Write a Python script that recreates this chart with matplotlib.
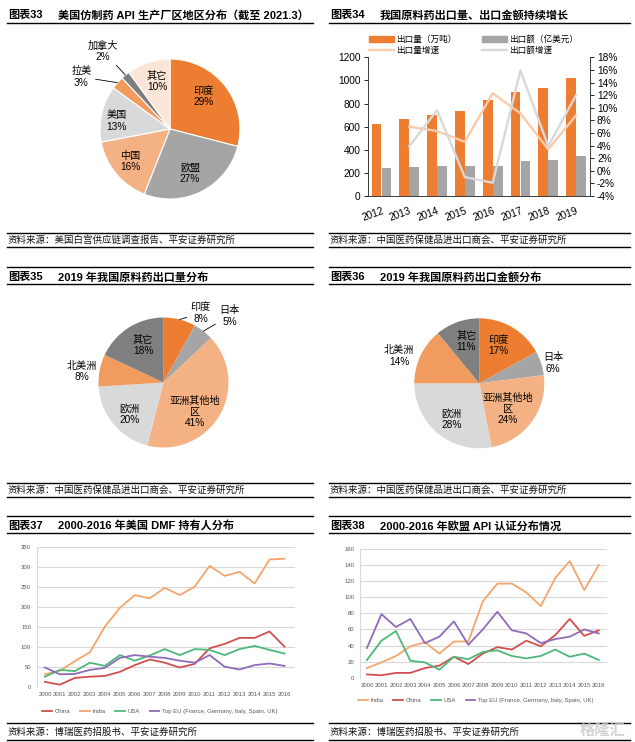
import matplotlib
matplotlib.use('Agg')
import matplotlib.pyplot as plt
from matplotlib.lines import Line2D
from matplotlib.patches import Patch
import numpy as np

plt.rcParams['font.family'] = ['Liberation Sans', 'Noto Sans CJK SC']
plt.rcParams['axes.unicode_minus'] = False

# ---------------- data ----------------
# Chart 33
pie33_labels = ['印度', '欧盟', '中国', '美国', '拉美', '加拿大', '其它']
pie33_values = [29, 27, 16, 13, 3, 2, 10]

# Chart 34
years34 = ['2012', '2013', '2014', '2015', '2016', '2017', '2018', '2019']
export_volume = [620, 663, 705, 733, 830, 898, 933, 1022]   # 万吨
export_value = [240, 248, 263, 263, 263, 300, 308, 344]      # 亿美元
volume_growth = [np.nan, 7.0, 6.3, 4.6, 12.3, 9.1, 3.4, 8.8]  # %
value_growth = [np.nan, 3.9, 9.6, -1.0, -1.9, 15.9, 3.9, 12.0]  # %
left_ticks34 = [0, 200, 400, 600, 800, 1000, 1200]
right_ticks34 = [-4, -2, 0, 2, 4, 6, 8, 10, 12, 14, 16, 18]

# Chart 35
pie35_labels = ['印度', '日本', '亚洲其他地区', '欧洲', '北美洲', '其它']
pie35_values = [8, 5, 41, 20, 8, 18]

# Chart 36
pie36_labels = ['印度', '日本', '亚洲其他地区', '欧洲', '北美洲', '其它']
pie36_values = [17, 6, 24, 28, 14, 11]

# Chart 37 (US DMF holders)
years_line = list(range(2000, 2017))
dmf_china = [12, 5, 22, 25, 27, 37, 54, 68, 60, 48, 57, 96, 107, 122, 122, 138, 100]
dmf_india = [31, 40, 64, 86, 150, 197, 229, 221, 247, 229, 250, 302, 277, 287, 258, 318, 320]
dmf_usa = [25, 42, 39, 60, 52, 79, 65, 78, 94, 79, 94, 92, 79, 94, 102, 92, 83]
dmf_eu = [48, 31, 32, 42, 47, 72, 79, 75, 72, 65, 60, 79, 50, 43, 54, 58, 52]
yticks37 = [0, 50, 100, 150, 200, 250, 300, 350]

# Chart 38 (EU API certificates)
cep_india = [12, 19, 27, 39, 44, 30, 45, 45, 95, 117, 117, 106, 89, 124, 145, 109, 140]
cep_china = [4, 3, 6, 6, 12, 15, 26, 17, 30, 38, 35, 46, 39, 53, 73, 52, 59]
cep_usa = [22, 46, 58, 21, 19, 10, 26, 23, 32, 34, 27, 24, 27, 35, 26, 30, 22]
cep_eu = [37, 79, 63, 73, 43, 51, 70, 41, 60, 82, 59, 55, 43, 48, 51, 60, 55]
yticks38 = [0, 20, 40, 60, 80, 100, 120, 140, 160]

eu_label = 'Top EU (France, Germany, Italy, Spain, UK)'

# ---------------- styles ----------------
ORANGE = '#ED7D31'
GRAY = '#A5A5A5'
LORANGE = '#F4B183'
LGRAY = '#D9D9D9'
MORANGE = '#F29B5E'
DGRAY = '#7F7F7F'
PEACH = '#FBE5D6'

W, H = 635, 742
fig = plt.figure(figsize=(W / 100, H / 100), dpi=100)


def px_axes(x0, y0, x1, y1):
    return fig.add_axes([x0 / W, 1 - y1 / H, (x1 - x0) / W, (y1 - y0) / H])


def hline(x0, x1, y, lw=1.0):
    fig.add_artist(Line2D([x0 / W, x1 / W], [1 - y / H, 1 - y / H],
                          transform=fig.transFigure, color='black', lw=lw))


def ftext(x, y, s, **kw):
    fig.text(x / W, 1 - y / H, s, **kw)


# ---------------- frames, titles, sources ----------------
LX0, LX1 = 7, 313
RX0, RX1 = 329, 630

titles = [
    (LX0, 15, '图表33', '美国仿制药 API 生产厂区地区分布（截至 2021.3）'),
    (RX0, 15, '图表34', '我国原料药出口量、出口金额持续增长'),
    (LX0, 277, '图表35', '2019 年我国原料药出口量分布'),
    (RX0, 277, '图表36', '2019 年我国原料药出口金额分布'),
    (LX0, 526, '图表37', '2000-2016 年美国 DMF 持有人分布'),
    (RX0, 526, '图表38', '2000-2016 年欧盟 API 认证分布情况'),
]
for x, y, a, b in titles:
    ftext(x + 1, y, a, fontsize=8, fontweight='bold', va='center', ha='left')
    ftext(x + 51, y, b, fontsize=8, fontweight='bold', va='center', ha='left')

src1 = '资料来源：美国白宫供应链调查报告、平安证券研究所'
src2 = '资料来源：中国医药保健品进出口商会、平安证券研究所'
src3 = '资料来源：博瑞医药招股书、平安证券研究所'
sources = [(LX0, 240, src1), (RX0, 240, src2), (LX0, 490, src2), (RX0, 490, src2),
           (LX0, 732, src3), (RX0, 732, src3)]
for x, y, s in sources:
    ftext(x + 1, y, s, fontsize=6.8, va='center', ha='left', color='#111111')

for (x0, x1) in [(LX0, LX1), (RX0, RX1)]:
    for yy in [23, 233, 247, 267, 284, 483, 497, 516, 533, 723, 740]:
        hline(x0, x1, yy)


# ---------------- pies ----------------
def draw_pie(cx, cy, R, labels, values, colors, lab_r, lab_off, leaders, edge_lw, wrap=5):
    ax = px_axes(cx - R, cy - R, cx + R, cy + R)
    wp = dict(edgecolor='white', linewidth=edge_lw) if edge_lw > 0 else dict(linewidth=0)
    ax.pie(values, colors=colors, startangle=90, counterclock=False, radius=1,
           wedgeprops=wp)
    ax.set_xlim(-1, 1)
    ax.set_ylim(-1, 1)
    ax.set_aspect('equal')
    ax.axis('off')
    total = float(sum(values))
    cum = np.cumsum(values)
    for i, (lab, v) in enumerate(zip(labels, values)):
        mid = 90 - (cum[i] - v / 2) / total * 360
        ang = np.deg2rad(mid + lab_off[i])
        tx, ty = lab_r[i] * np.cos(ang), lab_r[i] * np.sin(ang)
        name = lab if len(lab) <= wrap else lab[:wrap] + '\n' + lab[wrap:]
        txt = f'{name}\n{v}%'
        if leaders[i]:
            ex, ey = np.cos(np.deg2rad(mid)), np.sin(np.deg2rad(mid))
            ax.annotate(txt, xy=(ex, ey), xytext=(tx, ty), ha='center', va='center',
                        fontsize=7.3, linespacing=1.15, annotation_clip=False,
                        arrowprops=dict(arrowstyle='-', color='black', lw=0.6,
                                        shrinkA=1, shrinkB=0))
        else:
            ax.text(tx, ty, txt, ha='center', va='center', fontsize=7.3,
                    linespacing=1.15, clip_on=False)
    return ax


draw_pie(170, 129, 70, pie33_labels, pie33_values,
         [ORANGE, GRAY, LORANGE, LGRAY, MORANGE, DGRAY, PEACH],
         [0.67, 0.69, 0.73, 0.77, 1.47, 1.47, 0.70],
         [6, -2.6, 0, 4, 11, 1, -2.5],
         [False, False, False, False, True, True, False], 0.8)

draw_pie(163.5, 382.5, 65, pie35_labels, pie35_values,
         [ORANGE, GRAY, LORANGE, LGRAY, MORANGE, DGRAY],
         [1.215, 1.44, 0.66, 0.71, 1.27, 0.65],
         [-14, -7, -12, 3.6, 3, -3.4],
         [True, True, False, False, False, False], 0)

draw_pie(479.3, 383.3, 65, pie36_labels, pie36_values,
         [ORANGE, GRAY, LORANGE, LGRAY, MORANGE, DGRAY],
         [0.65, 1.18, 0.59, 0.70, 1.30, 0.67],
         [4, -2.6, -6, 1.6, 6.4, -2.3],
         [False, False, False, False, False, False], 0)

# ---------------- bar chart 34 ----------------
ax = px_axes(367.5, 57.3, 590, 196)
x = np.arange(len(years34))
ax.bar(x - 0.18, export_volume, 0.35, color=ORANGE, zorder=2)
ax.bar(x + 0.18, export_value, 0.35, color=GRAY, zorder=2)
ax.set_xlim(-0.5, len(years34) - 0.5)
ax.set_ylim(left_ticks34[0], left_ticks34[-1])
ax.set_yticks(left_ticks34)
ax.set_yticklabels([str(v) for v in left_ticks34], fontsize=7.3)
ax.set_xticks(x)
ax.set_xticklabels(years34, fontsize=7.3, rotation=20, ha='right', rotation_mode='anchor')
ax.tick_params(axis='x', length=0, pad=7)
ax.tick_params(axis='y', length=3, width=0.6, direction='out', pad=2)
for s in ['left', 'bottom', 'right']:
    ax.spines[s].set_color('#404040')
    ax.spines[s].set_linewidth(0.7)
ax.spines['top'].set_visible(False)

ax2 = ax.twinx()
ax2.plot(x, volume_growth, color='#F8CBAD', lw=1.7, zorder=3)
ax2.plot(x, value_growth, color=LGRAY, lw=1.7, zorder=3)
ax2.set_ylim(right_ticks34[0], right_ticks34[-1])
ax2.set_yticks(right_ticks34)
ax2.set_yticklabels([f'{v}%' for v in right_ticks34], fontsize=7.3)
ax2.tick_params(axis='y', length=3, width=0.6, direction='out', pad=2)
for s in ['left', 'bottom', 'right']:
    ax2.spines[s].set_color('#404040')
    ax2.spines[s].set_linewidth(0.7)
ax2.spines['top'].set_visible(False)

handles = [Patch(color=ORANGE), Line2D([], [], color='#F8CBAD', lw=1.7),
           Patch(color=GRAY), Line2D([], [], color=LGRAY, lw=1.7)]
labels = ['出口量（万吨）', '出口量增速', '出口额（亿美元）', '出口额增速']
ax2.legend(handles, labels, ncol=2, loc='upper left', frameon=False,
           bbox_to_anchor=(369 / W, 1 - 35 / H), bbox_transform=fig.transFigure,
           fontsize=6.2, handlelength=2.9, handleheight=0.7, handletextpad=0.3,
           labelspacing=0.25, columnspacing=2.9, borderpad=0, borderaxespad=0)


# ---------------- line charts ----------------
def line_chart(box, xl, series, colors, names, yticks, legend_xy, legend_order):
    ax = px_axes(*box)
    lines = {}
    for ys, c, n in zip(series, colors, names):
        lines[n], = ax.plot(years_line, ys, color=c, lw=1.3)
    ax.set_xlim(*xl)
    ax.set_ylim(yticks[0], yticks[-1])
    ax.set_yticks(yticks)
    ax.set_yticklabels([str(v) for v in yticks], fontsize=4.3, color='#595959')
    ax.set_xticks(years_line)
    ax.set_xticklabels([str(v) for v in years_line], fontsize=4.3, color='#595959')
    ax.tick_params(length=0, pad=4)
    ax.grid(axis='y', color=LGRAY, lw=0.8)
    ax.set_axisbelow(True)
    for s in ['top', 'right', 'bottom']:
        ax.spines[s].set_visible(False)
    ax.spines['left'].set_color(LGRAY)
    ax.spines['left'].set_linewidth(0.8)
    ax.legend([lines[n] for n in legend_order], legend_order, ncol=4, loc='center',
              bbox_to_anchor=(legend_xy[0] / W, 1 - legend_xy[1] / H),
              bbox_transform=fig.transFigure, frameon=False, fontsize=4.3,
              handlelength=1.6, handletextpad=0.5, columnspacing=1.6,
              labelcolor='#595959')
    return ax


C_CHINA = '#D1504F'
C_INDIA = '#F3A56B'
C_USA = '#4DB87A'
C_EU = '#8F6BB8'

line_chart((36.7, 546.7, 295, 686.7), (2000 - 0.55, 2016 + 0.7),
           [dmf_china, dmf_india, dmf_usa, dmf_eu],
           [C_CHINA, C_INDIA, C_USA, C_EU],
           ['China', 'India', 'USA', eu_label], yticks37, (160, 711),
           ['China', 'India', 'USA', eu_label])

line_chart((360, 549, 606.7, 677.7), (2000 - 0.48, 2016 + 0.55),
           [cep_india, cep_china, cep_usa, cep_eu],
           [C_INDIA, C_CHINA, C_USA, C_EU],
           ['India', 'China', 'USA', eu_label], yticks38, (476, 700),
           ['India', 'China', 'USA', eu_label])

# watermark
ftext(603, 731, '格隆汇', fontsize=11, color='#C8C8C8', ha='center', va='center',
      fontweight='bold', alpha=0.8)

fig.savefig('out.png', dpi=100)
